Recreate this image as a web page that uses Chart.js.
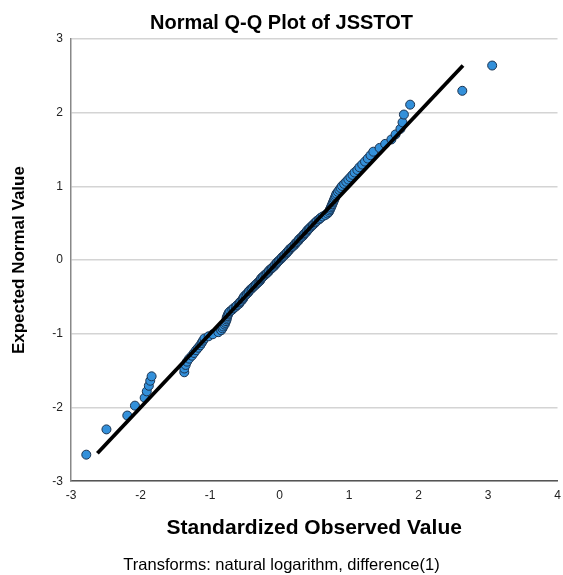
<!DOCTYPE html>
<html>
<head>
<meta charset="utf-8">
<script src="https://cdn.jsdelivr.net/npm/chart.js@4.4.1/dist/chart.umd.min.js"></script>
<style>
  html, body { margin: 0; padding: 0; background: #ffffff; }
  #wrap { position: relative; width: 563px; height: 575px; }
</style>
</head>
<body>
<div id="wrap"><canvas id="c" width="563" height="575"></canvas></div>
<script>
// Expected normal values (y), lowest to highest
const expectedNormal = [
  -2.640, -2.297, -2.109, -1.975, -1.869, -1.781, -1.705, -1.637, -1.577, -1.522,
  -1.471, -1.423, -1.378, -1.337, -1.297, -1.260, -1.223, -1.189, -1.156, -1.124,
  -1.093, -1.063, -1.034, -1.006, -0.978, -0.952, -0.926, -0.901, -0.876, -0.852,
  -0.828, -0.805, -0.782, -0.759, -0.737, -0.715, -0.694, -0.673, -0.652, -0.632,
  -0.612, -0.592, -0.572, -0.553, -0.533, -0.514, -0.495, -0.477, -0.458, -0.440,
  -0.421, -0.403, -0.385, -0.367, -0.349, -0.331, -0.314, -0.296, -0.279, -0.261,
  -0.244, -0.227, -0.210, -0.193, -0.176, -0.159, -0.142, -0.125, -0.109, -0.092,
  -0.075, -0.058, -0.042, -0.025, -0.008,
  0.008, 0.025, 0.042, 0.058, 0.075, 0.092, 0.109, 0.125, 0.142, 0.159,
  0.176, 0.193, 0.210, 0.227, 0.244, 0.261, 0.279, 0.296, 0.314, 0.331,
  0.349, 0.367, 0.385, 0.403, 0.421, 0.440, 0.458, 0.477, 0.495, 0.514,
  0.533, 0.553, 0.572, 0.592, 0.612, 0.632, 0.652, 0.673, 0.694, 0.715,
  0.737, 0.759, 0.782, 0.805, 0.828, 0.852, 0.876, 0.901, 0.926, 0.952,
  0.978, 1.006, 1.034, 1.063, 1.093, 1.124, 1.156, 1.189, 1.223, 1.260,
  1.297, 1.337, 1.378, 1.423, 1.471, 1.522, 1.577, 1.637, 1.705, 1.781,
  1.869, 1.975, 2.109, 2.297, 2.640
];
// Standardized observed values (x), in the same order
const observedValue = [
  -2.78, -2.49, -2.19, -2.08, -1.94, -1.91, -1.88, -1.86, -1.84, -1.37,
  -1.37, -1.35, -1.33, -1.30, -1.26, -1.23, -1.20, -1.17, -1.14, -1.12,
  -1.10, -1.08, -1.02, -0.96, -0.88, -0.84, -0.82, -0.81, -0.79, -0.78,
  -0.77, -0.76, -0.76, -0.75, -0.74, -0.73, -0.71, -0.68, -0.66, -0.63,
  -0.61, -0.58, -0.57, -0.55, -0.53, -0.52, -0.51, -0.49, -0.47, -0.45,
  -0.44, -0.42, -0.40, -0.38, -0.36, -0.34, -0.32, -0.30, -0.28, -0.27,
  -0.26, -0.24, -0.22, -0.20, -0.18, -0.16, -0.15, -0.13, -0.11, -0.09,
  -0.07, -0.06, -0.04, -0.03, -0.01,
  0.01, 0.03, 0.04, 0.06, 0.08, 0.10, 0.11, 0.13, 0.14, 0.16,
  0.18, 0.20, 0.22, 0.23, 0.25, 0.27, 0.28, 0.30, 0.32, 0.34,
  0.35, 0.37, 0.39, 0.40, 0.42, 0.44, 0.46, 0.48, 0.50, 0.52,
  0.54, 0.57, 0.59, 0.62, 0.66, 0.69, 0.71, 0.72, 0.73, 0.74,
  0.75, 0.76, 0.77, 0.78, 0.79, 0.80, 0.81, 0.82, 0.84, 0.86,
  0.88, 0.90, 0.93, 0.96, 0.99, 1.02, 1.05, 1.08, 1.12, 1.15,
  1.19, 1.23, 1.27, 1.31, 1.35, 1.44, 1.52, 1.61, 1.67, 1.74,
  1.77, 1.79, 1.88, 2.63, 3.06
];
// Reference line endpoints (x = y)
const lineX = [-2.62, 2.64];
const lineY = [-2.62, 2.64];
// Axis ticks
const xTicks = [-3, -2, -1, 0, 1, 2, 3, 4];
const yTicks = [-3, -2, -1, 0, 1, 2, 3];

const titleText = 'Normal Q-Q Plot of JSSTOT';
const xTitle = 'Standardized Observed Value';
const yTitle = 'Expected Normal Value';
const footText = 'Transforms: natural logarithm, difference(1)';

const pts = observedValue.map((x, i) => ({ x: x, y: expectedNormal[i] }));
const linePts = lineX.map((x, i) => ({ x: x, y: lineY[i] }));

const FONT = "'Liberation Sans', Arial, sans-serif";

new Chart(document.getElementById('c'), {
  type: 'scatter',
  data: {
    datasets: [
      {
        type: 'line',
        data: linePts,
        borderColor: '#000000',
        borderWidth: 3.8,
        pointRadius: 0,
        fill: false,
        order: 0
      },
      {
        type: 'scatter',
        data: pts,
        backgroundColor: '#3390da',
        borderColor: '#1b3350',
        borderWidth: 1,
        pointRadius: 4.5,
        order: 1
      }
    ]
  },
  options: {
    responsive: false,
    animation: false,
    layout: { padding: { left: 0, right: 0, top: 0, bottom: 0 } },
    plugins: {
      legend: { display: false },
      tooltip: { enabled: false },
      title: {
        display: true,
        text: titleText,
        color: '#000000',
        font: { family: FONT, size: 20, weight: 'bold' },
        padding: { top: 11, bottom: 4 }
      },
      subtitle: {
        display: true,
        position: 'bottom',
        text: footText,
        color: '#000000',
        font: { family: FONT, size: 16.5, weight: 'normal' },
        padding: { top: 0, bottom: 0 }
      }
    },
    scales: {
      x: {
        type: 'linear',
        min: -3,
        max: 4,
        afterBuildTicks: (s) => { s.ticks = xTicks.map(v => ({ value: v })); },
        afterFit: (s) => { s.height = 74; s.paddingRight = 2; s.paddingLeft = 0; },
        grid: { display: false, drawTicks: false },
        border: { display: true, color: '#555555', width: 1.5 },
        ticks: {
          color: '#222222',
          font: { family: FONT, size: 12 },
          padding: 7,
          maxRotation: 0
        },
        title: {
          display: true,
          text: xTitle,
          color: '#000000',
          font: { family: FONT, size: 21, weight: 'bold' },
          padding: { top: 4, bottom: 14 }
        }
      },
      y: {
        type: 'linear',
        min: -3,
        max: 3,
        afterBuildTicks: (s) => { s.ticks = yTicks.map(v => ({ value: v })); },
        afterFit: (s) => { s.width = 71; },
        grid: { display: true, color: '#d4d4d4', lineWidth: 1.5, drawTicks: false },
        border: { display: true, color: '#888888', width: 1.5 },
        ticks: {
          color: '#222222',
          font: { family: FONT, size: 12 },
          padding: 8
        },
        title: {
          display: true,
          text: yTitle,
          color: '#000000',
          font: { family: FONT, size: 17, weight: 'bold' },
          padding: { top: 9, bottom: 4 }
        }
      }
    }
  }
});
</script>
</body>
</html>
